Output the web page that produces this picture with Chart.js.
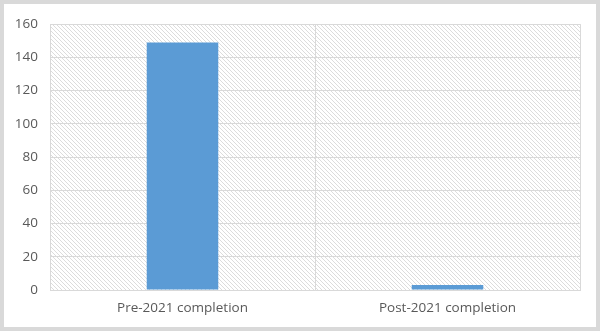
<!DOCTYPE html>
<html>
<head>
<meta charset="utf-8">
<script src="https://cdn.jsdelivr.net/npm/chart.js@4"></script>
<style>
  html, body { margin: 0; padding: 0; background: #fff; }
  #wrap { width: 600px; height: 331px; box-sizing: border-box; border: 4px solid #d9d9d9; background: #fff; }
  canvas { display: block; }
</style>
</head>
<body>
<div id="wrap"><canvas id="chart" width="592" height="323"></canvas></div>
<script>
// ---------- 数据 ----------
const categories = ['Pre-2021 completion', 'Post-2021 completion'];
const values = [149, 3];
const yMin = 0, yMax = 160, yStep = 20;

// 绘图区斜线底纹
const hatchPlugin = {
    id: 'hatch',
    beforeDraw(chart) {
        const { ctx, chartArea: a } = chart;
        const c = document.createElement('canvas');
        c.width = 4; c.height = 4;
        const g = c.getContext('2d');
        g.fillStyle = '#ffffff';
        g.fillRect(0, 0, 4, 4);
        g.fillStyle = '#dcdcdc';
        for (let i = 0; i < 4; i++) g.fillRect(i, i, 1, 1);
        ctx.save();
        ctx.fillStyle = ctx.createPattern(c, 'repeat');
        ctx.fillRect(a.left, a.top, a.right - a.left, a.bottom - a.top);
        ctx.restore();
    }
};

const tickFont = { family: '"Open Sans", "Noto Sans", sans-serif', size: 13.5 };

new Chart(document.getElementById('chart').getContext('2d'), {
    type: 'bar',
    data: {
        labels: categories,
        datasets: [{
            data: values,
            backgroundColor: '#5b9bd5',
            borderWidth: 0,
            categoryPercentage: 1,
            barPercentage: 0.27,
        }]
    },
    options: {
        responsive: false,
        animation: false,
        layout: { padding: { top: 17, right: 16, left: 0, bottom: 0 } },
        plugins: { legend: { display: false }, tooltip: { enabled: false } },
        scales: {
            y: {
                min: yMin,
                max: yMax,
                ticks: { stepSize: yStep, color: '#595959', font: tickFont, padding: 12 },
                grid: { color: '#d9d9d9', lineWidth: 1, drawTicks: false },
                border: { color: '#d9d9d9' },
                afterFit: s => { s.width = 46; }
            },
            x: {
                offset: true,
                ticks: { color: '#595959', font: tickFont, padding: 10 },
                grid: { color: '#d9d9d9', lineWidth: 1, offset: true, drawTicks: false },
                border: { color: '#d9d9d9' },
                afterFit: s => { s.height = 37; }
            }
        }
    },
    plugins: [hatchPlugin]
});
</script>
</body>
</html>
